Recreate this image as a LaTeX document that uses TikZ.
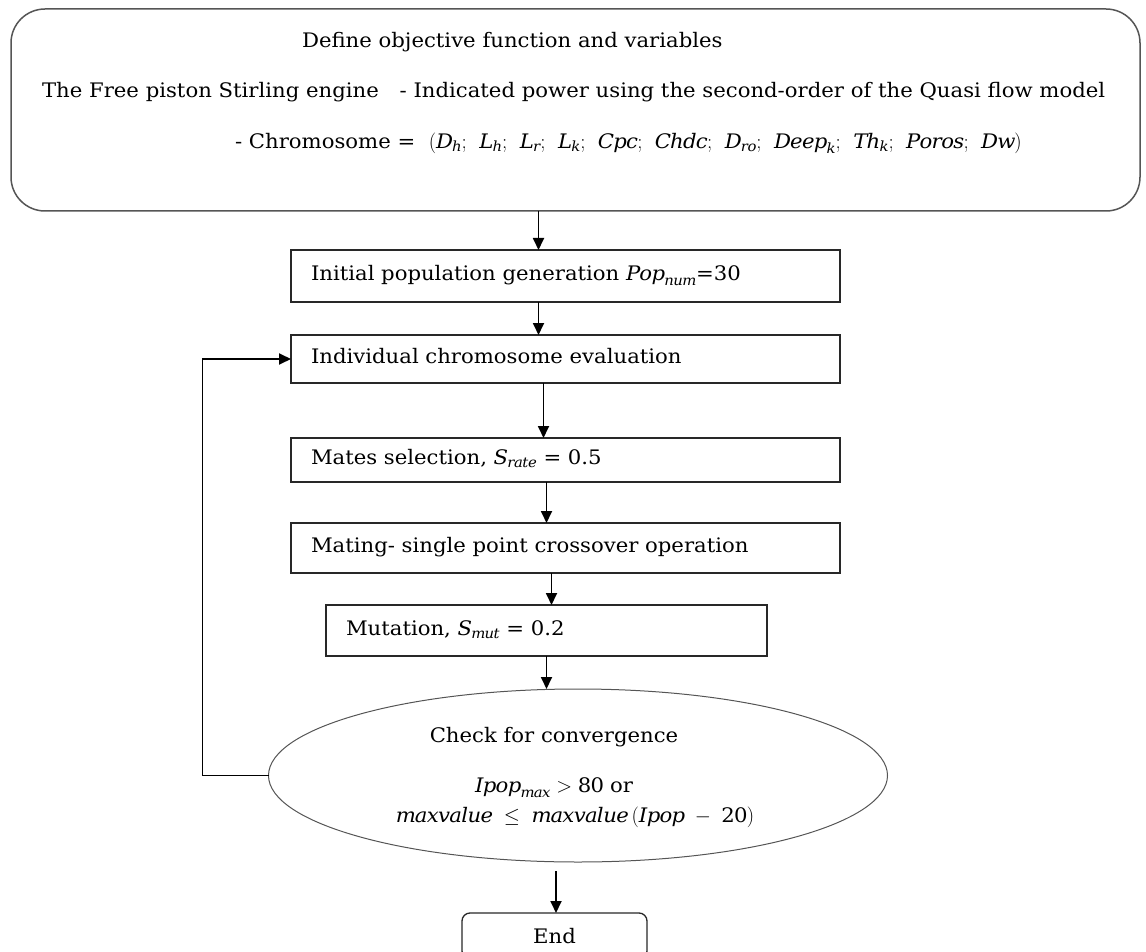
\documentclass[tikz,border=0pt]{standalone}
\usepackage{amsmath,amssymb}
\usepackage{fontspec}
\setmainfont{DejaVu Serif}[FakeStretch=1.06]
\usepackage{xcolor}
\usepackage{tikz}
\usetikzlibrary{arrows.meta, positioning, shapes.geometric}
\definecolor{edgegray}{RGB}{40,40,40}
\definecolor{rimgray}{RGB}{85,85,85}
% italic variable names set in the text face
\newcommand{\gavar}[1]{\mathit{#1}}
\newcommand{\gasep}{\mathrm{;}\ \;}

\begin{document}
\begin{tikzpicture}[
  x=1pt, y=-1pt,
  font=\fontsize{20}{24}\selectfont,
  >={Triangle[length=12pt, width=11pt]},
  every node/.style={inner sep=0pt, outer sep=0pt},
  stepbox/.style={draw=edgegray, rectangle, line width=1.3pt,
                  inner xsep=20pt, text width=509pt, align=left,
                  text height=14pt, text depth=5pt},
  objbox/.style={draw=rimgray, rounded corners=34pt, line width=1.5pt,
                 minimum width=1129pt, minimum height=202pt},
  testbox/.style={draw=rimgray, ellipse, line width=1pt,
                  minimum width=619pt, minimum height=173pt},
  endbox/.style={draw=edgegray, rounded corners=8pt, line width=1.3pt,
                 minimum width=185pt, minimum height=46pt},
  line/.style={anchor=west},
  arr/.style={->, draw=black, line width=1.8pt},
]
\useasboundingbox (0,0) rectangle (1146,952);

%% Objective box on top
\node[objbox, anchor=north west] (obj) at (11,9) {};
\node[line] (objtitle) at (302,42) {Define objective function and variables};
\node[line] (objpower) at (42,92)
  {The Free piston Stirling engine\hspace{14pt} - Indicated power using the second-order of the Quasi flow model};
\node[line] (objchrom) at (235,143)
  {- Chromosome = \ $\mathrm{(}\gavar{D}_{\gavar{h}}\gasep \gavar{L}_{\gavar{h}}\gasep \gavar{L}_{\gavar{r}}\gasep
   \gavar{L}_{\gavar{k}}\gasep \gavar{Cpc}\gasep \gavar{Chdc}\gasep \gavar{D}_{\gavar{ro}}\gasep
   \gavar{Deep}_{\gavar{k}}\gasep \gavar{Th}_{\gavar{k}}\gasep \gavar{Poros}\gasep \gavar{Dw}\mathrm{)}$};

%% GA loop
\node[stepbox, minimum height=52pt, anchor=north west] (init) at (291,250)
  {Initial population generation $\gavar{Pop}_{\gavar{num}}$=30};
\node[stepbox, minimum height=48pt, below=33pt of init] (eval)
  {Individual chromosome evaluation};
\node[stepbox, minimum height=44pt, below=55pt of eval] (mates)
  {Mates selection, $\gavar{S}_{\gavar{rate}}$ = 0.5};
\node[stepbox, minimum height=50pt, below=41pt of mates] (mating)
  {Mating- single point crossover operation};
\node[stepbox, minimum height=51pt, text width=401pt,
      below=32pt of mating, xshift=-19pt] (mut)
  {Mutation, $\gavar{S}_{\gavar{mut}}$ = 0.2};

%% Convergence test and end
\node[testbox, below=33pt of mut, xshift=31.5pt] (conv) {};
\node (chk) at (554,737) {Check for convergence};
\node (critpop) at (554,788) {$\gavar{Ipop}_{\gavar{max}} > \mathrm{80}$ or};
\node (critval) at (575,817)
  {$\gavar{maxvalue}\; \le \;\gavar{maxvalue}\,\mathrm{(}\gavar{Ipop}\; - \;\mathrm{20)}$};
\node[endbox, below=51pt of conv, xshift=-23.5pt] (stop) {End};

%% Arrows
\draw[arr] ([xshift=-27pt]init.north |- obj.south) -- ([xshift=-27pt]init.north);
\draw[arr] ([xshift=-27pt]init.south) -- ([xshift=-27pt]eval.north);
\draw[arr] ([xshift=-22pt]eval.south) -- ([xshift=-22pt]mates.north);
\draw[arr] ([xshift=-19pt]mates.south) -- ([xshift=-19pt]mating.north);
\draw[arr] ([xshift=-14pt]mating.south) -- ([xshift=-14pt]mating.south |- mut.north);
\draw[arr] (mut.south) -- (mut.south |- conv.north);
\draw[arr] ([xshift=-22pt]conv.south) ++(0,9) -- ([xshift=-22pt]conv.south |- stop.north);
\draw[arr] (conv.west) -- ++(-66,0) |- (eval.west);

\end{tikzpicture}
\end{document}
